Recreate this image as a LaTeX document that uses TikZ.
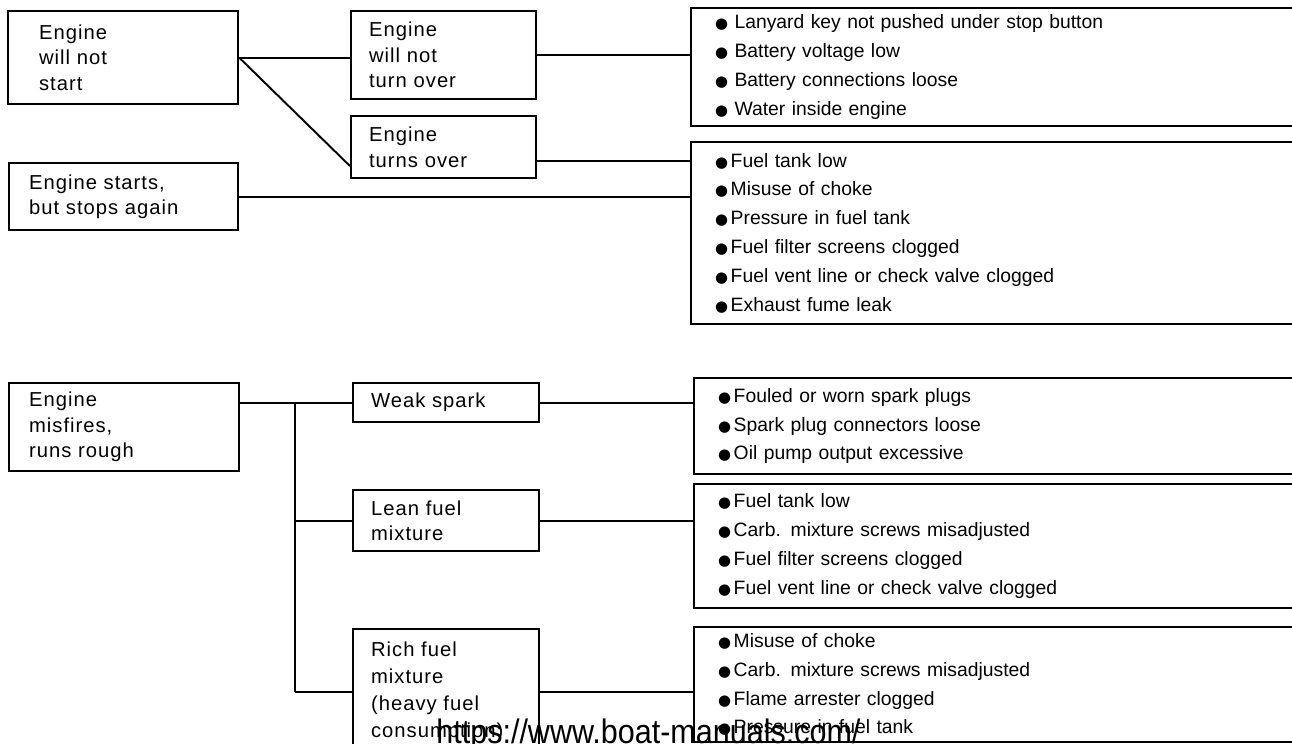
\documentclass[tikz,border=0pt]{standalone}
\usepackage{fontspec}
\setmainfont{Liberation Sans}
\newfontfamily\symfont{DejaVu Sans}
\newcommand{\bul}{{\symfont\fontsize{8.5}{10}\selectfont ●}}
\usetikzlibrary{calc}

\tikzset{
    fault/.style={draw, line width=1.2pt, anchor=north west, align=left,
        inner ysep=0pt, font=\fontsize{11.5}{14.5}\selectfont\addfontfeature{LetterSpace=5}},
    causes/.style={draw, line width=1.2pt, anchor=north west, align=left,
        text width=11.2cm, inner xsep=0.48cm, inner ysep=0pt,
        font=\fontsize{11}{16.4}\selectfont},
    link/.style={line width=1.1pt},
}

\begin{document}
\begin{tikzpicture}
    \useasboundingbox (0,0) rectangle (25.84,-14.86);

    % Starting faults - left column
    \node[fault, text width=3.36cm, inner xsep=0.62cm, minimum height=1.86cm] (nostart) at (0.14,-0.20) {Engine\\will not\\start};
    \node[fault, text width=3.78cm, inner xsep=0.40cm, minimum height=1.34cm] (stops) at (0.16,-3.24) {Engine starts,\\but stops again};

    % Middle column
    \node[fault, text width=2.98cm, inner xsep=0.36cm, minimum height=1.76cm] (noturn) at (7.00,-0.20) {Engine\\will not\\turn over};
    \node[fault, text width=2.98cm, inner xsep=0.36cm, minimum height=1.24cm] (turns) at (7.00,-2.30) {Engine\\turns over};

    % Cause lists - run off the right edge
    \node[causes, minimum height=2.36cm] (elec) at (13.80,-0.14) {\bul\ Lanyard key not pushed under stop button\\\bul\ Battery voltage low\\\bul\ Battery connections loose\\\bul\ Water inside engine};
    \node[causes, minimum height=3.64cm] (fuel) at (13.80,-2.82) {\bul\hspace{1.5pt}Fuel tank low\\\bul\hspace{1.5pt}Misuse of choke\\\bul\hspace{1.5pt}Pressure in fuel tank\\\bul\hspace{1.5pt}Fuel filter screens clogged\\\bul\hspace{1.5pt}Fuel vent line or check valve clogged\\\bul\hspace{1.5pt}Exhaust fume leak};

    \draw[link] (nostart.east) -- (nostart.east -| noturn.west);
    \draw[link] (nostart.east) -- ([yshift=-0.38cm]turns.west);
    \draw[link] (noturn.east) -- (noturn.east -| elec.west);
    \draw[link] ([yshift=-0.28cm]turns.east) -- ([yshift=-0.28cm]turns.east -| fuel.west);
    \draw[link] (stops.east) -- (stops.east -| fuel.west);

    % Misfiring
    \node[fault, text width=3.80cm, inner xsep=0.40cm, minimum height=1.76cm] (misfire) at (0.16,-7.64) {Engine\\misfires,\\runs rough};

    \node[fault, text width=3.00cm, inner xsep=0.36cm, minimum height=0.78cm] (spark) at (7.04,-7.64) {Weak spark};
    \node[fault, text width=3.00cm, inner xsep=0.36cm, minimum height=1.22cm] (lean) at (7.04,-9.78) {Lean fuel\\mixture};
    \node[fault, text width=3.00cm, inner xsep=0.36cm, minimum height=2.50cm, font=\fontsize{11.5}{15.3}\selectfont\addfontfeature{LetterSpace=5}] (rich) at (7.04,-12.56) {Rich fuel\\mixture\\(heavy fuel\\consumption)};

    \node[causes, minimum height=1.92cm] (plugs) at (13.86,-7.54) {\bul\hspace{1.5pt}Fouled or worn spark plugs\\\bul\hspace{1.5pt}Spark plug connectors loose\\\bul\hspace{1.5pt}Oil pump output excessive};
    \node[causes, minimum height=2.48cm] (leanlist) at (13.86,-9.66) {\bul\hspace{1.5pt}Fuel tank low\\\bul\hspace{1.5pt}Carb. mixture screws misadjusted\\\bul\hspace{1.5pt}Fuel filter screens clogged\\\bul\hspace{1.5pt}Fuel vent line or check valve clogged};
    \node[causes, minimum height=2.30cm] (richlist) at (13.86,-12.52) {\bul\hspace{1.5pt}Misuse of choke\\\bul\hspace{1.5pt}Carb. mixture screws misadjusted\\\bul\hspace{1.5pt}Flame arrester clogged\\\bul\hspace{1.5pt}Pressure in fuel tank};

    % Branch bus
    \coordinate (bus) at (5.90,0);
    \draw[link] (misfire.east |- spark.west) -- (spark.west);
    \draw[link] (bus |- spark.west) -- (bus |- rich.west);
    \draw[link] (bus |- lean.west) -- (lean.west);
    \draw[link] (bus |- rich.west) -- (rich.west);

    \draw[link] (spark.east) -- (spark.east -| plugs.west);
    \draw[link] (lean.east) -- (lean.east -| leanlist.west);
    \draw[link] (rich.east) -- (rich.east -| richlist.west);

    % Watermark over the bottom
    \node[anchor=base west, inner sep=0pt] (url) at (8.72,-14.87) {\scalebox{0.9}[1]{\fontsize{19.3}{19.3}\selectfont https://www.boat-manuals.com/}};
\end{tikzpicture}
\end{document}
